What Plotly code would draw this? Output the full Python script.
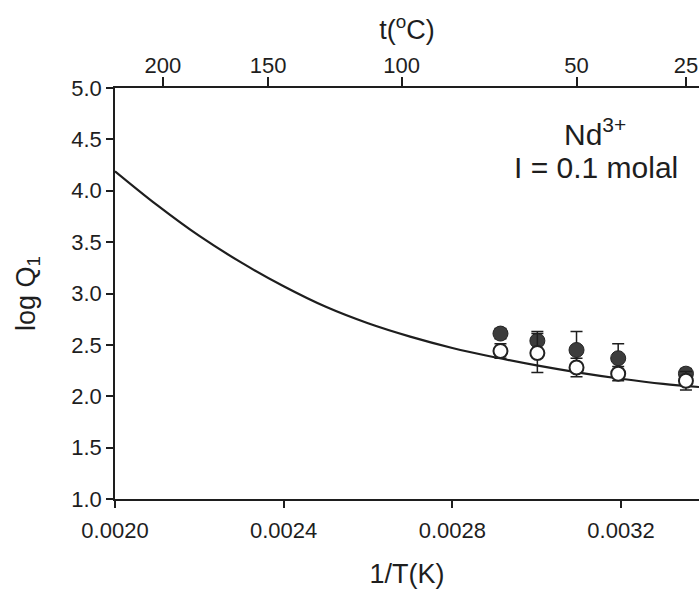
import plotly.graph_objects as go

# Model curve: log Q1 vs 1/T
curve_x = [0.0020, 0.0021, 0.0022, 0.0023, 0.0024, 0.0025, 0.0026, 0.0027,
           0.0028, 0.0029, 0.0030, 0.0031, 0.0032, 0.0033, 0.003385]
curve_y = [4.19, 3.86, 3.56, 3.30, 3.07, 2.87, 2.71, 2.58,
           2.47, 2.38, 2.30, 2.23, 2.17, 2.12, 2.09]

# Experimental temperatures (°C)
temps_c = [70, 60, 50, 40, 25]
inv_T = [1.0 / (t + 273.15) for t in temps_c]

filled_y = [2.61, 2.54, 2.45, 2.37, 2.22]
filled_err = [0.05, 0.09, 0.18, 0.14, 0.05]
open_y = [2.44, 2.42, 2.28, 2.22, 2.15]
open_err = [0.07, 0.19, 0.09, 0.07, 0.09]

# Axis ticks
x_ticks = [0.0020, 0.0024, 0.0028, 0.0032]
y_ticks = [1.0, 1.5, 2.0, 2.5, 3.0, 3.5, 4.0, 4.5, 5.0]
top_ticks_c = [200, 150, 100, 50, 25]

x_range = [0.0020, 0.003385]
font_family = "Liberation Sans, Arial, sans-serif"
ink = "#1e1e1e"
tick_font = dict(family=font_family, size=22, color=ink)
title_font = dict(family=font_family, size=27, color=ink)

fig = go.Figure()

fig.add_trace(go.Scatter(
    x=curve_x, y=curve_y, mode="lines", line=dict(color=ink, width=2.2, shape="spline"),
    showlegend=False, hoverinfo="skip"))

fig.add_trace(go.Scatter(
    x=inv_T, y=filled_y, mode="markers",
    marker=dict(size=15, color="#3c3c3c", line=dict(color="#222", width=1)),
    error_y=dict(type="data", array=filled_err, visible=True, color=ink, thickness=1.5, width=6),
    showlegend=False))

fig.add_trace(go.Scatter(
    x=inv_T, y=open_y, mode="markers",
    marker=dict(size=14, color="white", line=dict(color="#222", width=2)),
    error_y=dict(type="data", array=open_err, visible=True, color=ink, thickness=1.5, width=6),
    showlegend=False))

# Invisible trace to anchor the top temperature axis
fig.add_trace(go.Scatter(x=x_range, y=[None, None], xaxis="x2", mode="markers",
                         showlegend=False, hoverinfo="skip"))

fig.update_layout(
    width=699, height=589,
    margin=dict(l=115, r=0, t=88, b=90),
    paper_bgcolor="white", plot_bgcolor="white",
    font=dict(family=font_family, color=ink, size=22),
    xaxis=dict(
        range=x_range, tickvals=x_ticks, tickformat=".4f", tickfont=tick_font,
        showline=True, linecolor=ink, linewidth=1.5, mirror=False,
        ticks="outside", ticklen=7, tickwidth=1.5, tickcolor=ink,
        ticklabelstandoff=4,
        showgrid=False, zeroline=False,
        title=dict(text="1/T(K)", font=title_font, standoff=22)),
    xaxis2=dict(
        range=x_range, overlaying="x", side="top", anchor="y",
        tickvals=[1.0 / (t + 273.15) for t in top_ticks_c],
        ticktext=[str(t) for t in top_ticks_c], tickfont=tick_font,
        showline=True, linecolor=ink, linewidth=1.5,
        ticks="outside", ticklen=9, tickwidth=1.5, tickcolor=ink,
        ticklabelstandoff=-5,
        showgrid=False, zeroline=False,
        title=dict(text="t(<sup>o</sup>C)", font=title_font, standoff=6)),
    yaxis=dict(
        range=[1.0, 5.0], tickvals=y_ticks, tickformat=".1f", tickfont=tick_font,
        showline=True, linecolor=ink, linewidth=1.5,
        ticks="outside", ticklen=7, tickwidth=1.5, tickcolor=ink,
        showgrid=False, zeroline=False,
        title=dict(text="log Q<sub>1</sub>", font=title_font, standoff=28)),
    annotations=[
        dict(x=0.003138, y=4.57, xref="x", yref="y", text="Nd<sup>3+</sup>",
             showarrow=False, font=dict(family=font_family, size=30, color=ink),
             xanchor="center", yanchor="middle"),
        dict(x=0.003141, y=4.23, xref="x", yref="y", text="I = 0.1 molal",
             showarrow=False, font=dict(family=font_family, size=30, color=ink),
             xanchor="center", yanchor="middle"),
    ],
)

fig.write_html("out.html")
